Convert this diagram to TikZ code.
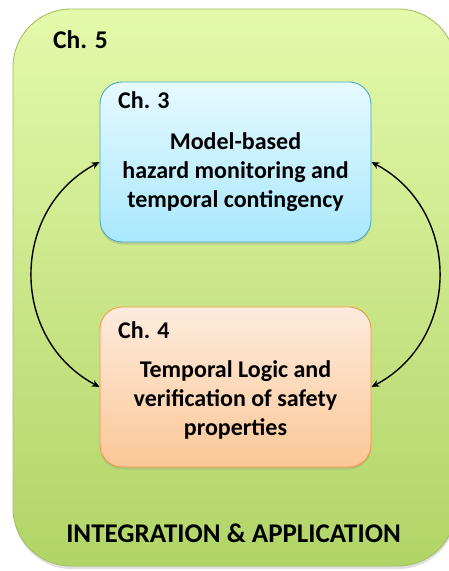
\documentclass[tikz,border=0pt]{standalone}
\usepackage{fontspec}
\setmainfont{Carlito}
\usetikzlibrary{positioning,arrows.meta,shadows}

\definecolor{outertop}{HTML}{E4F9AB}
\definecolor{outerbot}{HTML}{B1D467}
\definecolor{outerline}{HTML}{A2C162}
\definecolor{bluetop}{HTML}{E6F9FF}
\definecolor{bluebot}{HTML}{A9E8FC}
\definecolor{blueline}{HTML}{4BACC6}
\definecolor{orangetop}{HTML}{FDEBDD}
\definecolor{orangebot}{HTML}{FBC797}
\definecolor{orangeline}{HTML}{F79646}

\begin{document}
\begin{tikzpicture}[x=1pt,y=1pt]
            \tikzstyle{chbox}=[rounded corners=22pt, inner sep=0pt, minimum width=271pt, minimum height=160pt, line width=0.9pt, drop shadow={opacity=0.25, shadow xshift=0pt, shadow yshift=-2.5pt}]
            \tikzstyle{boxtext}=[font=\bfseries\fontsize{24}{29}\selectfont, align=center, inner sep=0pt]
            \tikzstyle{cyclearrow}=[line width=1.4pt, {Stealth[length=8pt,width=7pt]}-{Stealth[length=8pt,width=7pt]}]

            \useasboundingbox (0,0) rectangle (448,-571);

            % chapter 5 frame
            \draw[outerline, line width=0.9pt, rounded corners=58pt, top color=outertop, bottom color=outerbot, drop shadow={opacity=0.25, shadow xshift=0.5pt, shadow yshift=-3pt}] (13,-9) rectangle (456,-566);

            \node[chbox, draw=blueline, top color=bluetop, bottom color=bluebot] (ch3) at (235.5,-162) {};
            \node[chbox, draw=orangeline, top color=orangetop, bottom color=orangebot] (ch4) at (235.5,-387) {};

            \node[boxtext, font=\bfseries\fontsize{25.5}{29}\selectfont, anchor=west] (ch5lbl) at (53,-40) {Ch. 5};
            \node[boxtext, anchor=west] (ch3lbl) at (118,-100) {Ch. 3};
            \node[boxtext, anchor=west] (ch4lbl) at (118,-330) {Ch. 4};

            \node[boxtext] (ch3txt) at (235.5,-172) {Model-based\\hazard monitoring and\\temporal contingency};
            \node[boxtext] (ch4txt) at (235.5,-400) {Temporal Logic and\\verification of safety\\properties};

            \node[boxtext, font=\bfseries\fontsize{27}{29}\selectfont] (applbl) at (233.5,-533) {INTEGRATION \& APPLICATION};

            \draw[cyclearrow] (ch3.west) .. controls +(208:102) and +(152:102) .. (ch4.west);
            \draw[cyclearrow] (ch3.east) .. controls +(-28:102) and +(28:102) .. (ch4.east);
        \end{tikzpicture}
\end{document}
